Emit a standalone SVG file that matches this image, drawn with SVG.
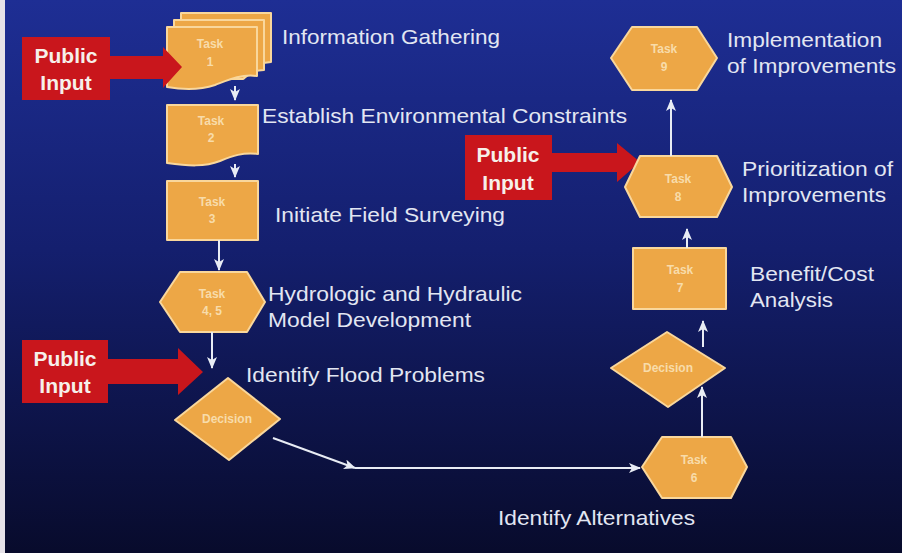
<svg xmlns="http://www.w3.org/2000/svg" width="902" height="553" viewBox="0 0 902 553">
<defs>
<linearGradient id="bg" x1="0" y1="0" x2="0" y2="1">
<stop offset="0" stop-color="#1e2e94"/>
<stop offset="0.45" stop-color="#141f6e"/>
<stop offset="1" stop-color="#080b2c"/>
</linearGradient>
<marker id="ah" markerUnits="userSpaceOnUse" markerWidth="12" markerHeight="10" refX="11" refY="5" orient="auto">
<path d="M0,0 L12,5 L0,10 L3,5 Z" fill="#e8ecf4"/>
</marker>
<style>
.nd{fill:#eda746;stroke:#f9d79c;stroke-width:2;stroke-linejoin:round}
.nt{font-family:"Liberation Sans",Arial,sans-serif;font-weight:bold;font-size:12px;fill:#f8dcaa;text-anchor:middle}
.lb{font-family:"Liberation Sans",Arial,sans-serif;font-size:21px;fill:#e2e6f2}
.pi{fill:#c9161c}
.pt{font-family:"Liberation Sans",Arial,sans-serif;font-weight:bold;font-size:21px;fill:#f6f0ea;text-anchor:middle}
.cn{fill:none;stroke:#e8ecf4;stroke-width:2;marker-end:url(#ah)}
</style>
</defs>
<rect x="0" y="0" width="902" height="553" fill="url(#bg)"/>
<rect x="0" y="0" width="5" height="553" fill="#e6e2e8"/>

<g id="task1">
<path class="nd" d="M181,13 H271 V62 C260,62 255,68 250,72 H181 Z"/>
<path class="nd" d="M174,20 H264 V70 C253,70 248,75 243,79 H174 Z"/>
<path class="nd" d="M167,27 H257 V76 C240,74 228,80 215,85 C200,90 185,90 167,87 Z"/>
<text class="nt" x="210" y="48">Task</text>
<text class="nt" x="210" y="66">1</text>
</g>
<text class="lb" x="282" y="44" textLength="218" lengthAdjust="spacingAndGlyphs">Information Gathering</text>

<g id="public-input-1">
<path class="pi" d="M22,37 H110 V56 H163 V47 L182,67 L163,88 V79 H110 V100 H22 Z"/>
<text class="pt" x="66" y="63">Public</text>
<text class="pt" x="66" y="90">Input</text>
</g>
<g id="public-input-2">
<path class="pi" d="M22,340 H108 V359 H178 V348 L203,372 L178,395 V384 H108 V403 H22 Z"/>
<text class="pt" x="65" y="366">Public</text>
<text class="pt" x="65" y="393">Input</text>
</g>
<g id="public-input-3">
<path class="pi" d="M465,135 H552 V153 H617 V143 L640,162 L617,182 V172 H552 V200 H465 Z"/>
<text class="pt" x="508" y="162">Public</text>
<text class="pt" x="508" y="190">Input</text>
</g>

<g id="task2">
<path class="nd" d="M167,105 H258 V154 C243,152 232,156 220,161 C205,167 188,166 167,163 Z"/>
<text class="nt" x="211" y="125">Task</text>
<text class="nt" x="211" y="142">2</text>
</g>
<text class="lb" x="262" y="123" textLength="365" lengthAdjust="spacingAndGlyphs">Establish Environmental Constraints</text>

<g id="task3">
<rect class="nd" x="167" y="181" width="91" height="59"/>
<text class="nt" x="212" y="206">Task</text>
<text class="nt" x="212" y="223">3</text>
</g>
<text class="lb" x="275" y="222" textLength="230" lengthAdjust="spacingAndGlyphs">Initiate Field Surveying</text>

<g id="task45">
<path class="nd" d="M160,302 L180,272 H247 L265,302 L247,332 H180 Z"/>
<text class="nt" x="212" y="298">Task</text>
<text class="nt" x="212" y="315">4, 5</text>
</g>
<text class="lb" x="268" y="301" textLength="254" lengthAdjust="spacingAndGlyphs">Hydrologic and Hydraulic</text>
<text class="lb" x="268" y="327" textLength="203" lengthAdjust="spacingAndGlyphs">Model Development</text>

<g id="decision1">
<path class="nd" d="M228,378 L280,419 L229,460 L175,420 Z"/>
<text class="nt" x="227" y="423">Decision</text>
</g>
<text class="lb" x="246" y="382" textLength="239" lengthAdjust="spacingAndGlyphs">Identify Flood Problems</text>

<g id="task6">
<path class="nd" d="M642,467 L662,437 H731 L747,467 L731,498 H662 Z"/>
<text class="nt" x="694" y="464">Task</text>
<text class="nt" x="694" y="482">6</text>
</g>
<text class="lb" x="498" y="525" textLength="197" lengthAdjust="spacingAndGlyphs">Identify Alternatives</text>

<g id="decision2">
<path class="nd" d="M667,332 L725,368 L668,407 L611,368 Z"/>
<text class="nt" x="668" y="372">Decision</text>
</g>

<g id="task7">
<rect class="nd" x="633" y="248" width="93" height="61"/>
<text class="nt" x="680" y="274">Task</text>
<text class="nt" x="680" y="292">7</text>
</g>
<text class="lb" x="750" y="281" textLength="124" lengthAdjust="spacingAndGlyphs">Benefit/Cost</text>
<text class="lb" x="750" y="307" textLength="83" lengthAdjust="spacingAndGlyphs">Analysis</text>

<g id="task8">
<path class="nd" d="M625,187 L640,156 H717 L732,187 L717,217 H640 Z"/>
<text class="nt" x="678" y="183">Task</text>
<text class="nt" x="678" y="201">8</text>
</g>
<text class="lb" x="742" y="176" textLength="151" lengthAdjust="spacingAndGlyphs">Prioritization of</text>
<text class="lb" x="742" y="202" textLength="144" lengthAdjust="spacingAndGlyphs">Improvements</text>

<g id="task9">
<path class="nd" d="M611,58 L632,27 H697 L717,58 L697,90 H632 Z"/>
<text class="nt" x="664" y="53">Task</text>
<text class="nt" x="664" y="71">9</text>
</g>
<text class="lb" x="727" y="47" textLength="155" lengthAdjust="spacingAndGlyphs">Implementation</text>
<text class="lb" x="727" y="73" textLength="169" lengthAdjust="spacingAndGlyphs">of Improvements</text>

<g id="connectors">
<line class="cn" x1="235" y1="86" x2="235" y2="100"/>
<line class="cn" x1="235" y1="164" x2="235" y2="177"/>
<line class="cn" x1="219" y1="240" x2="219" y2="270"/>
<line class="cn" x1="212" y1="332" x2="212" y2="368"/>
<line class="cn" x1="273" y1="438" x2="355" y2="468"/>
<line class="cn" x1="355" y1="468" x2="640" y2="468"/>
<line class="cn" x1="702" y1="437" x2="702" y2="387"/>
<line class="cn" x1="703" y1="347" x2="703" y2="321"/>
<line class="cn" x1="687" y1="248" x2="687" y2="229"/>
<line class="cn" x1="671" y1="156" x2="671" y2="100"/>
</g>
</svg>
